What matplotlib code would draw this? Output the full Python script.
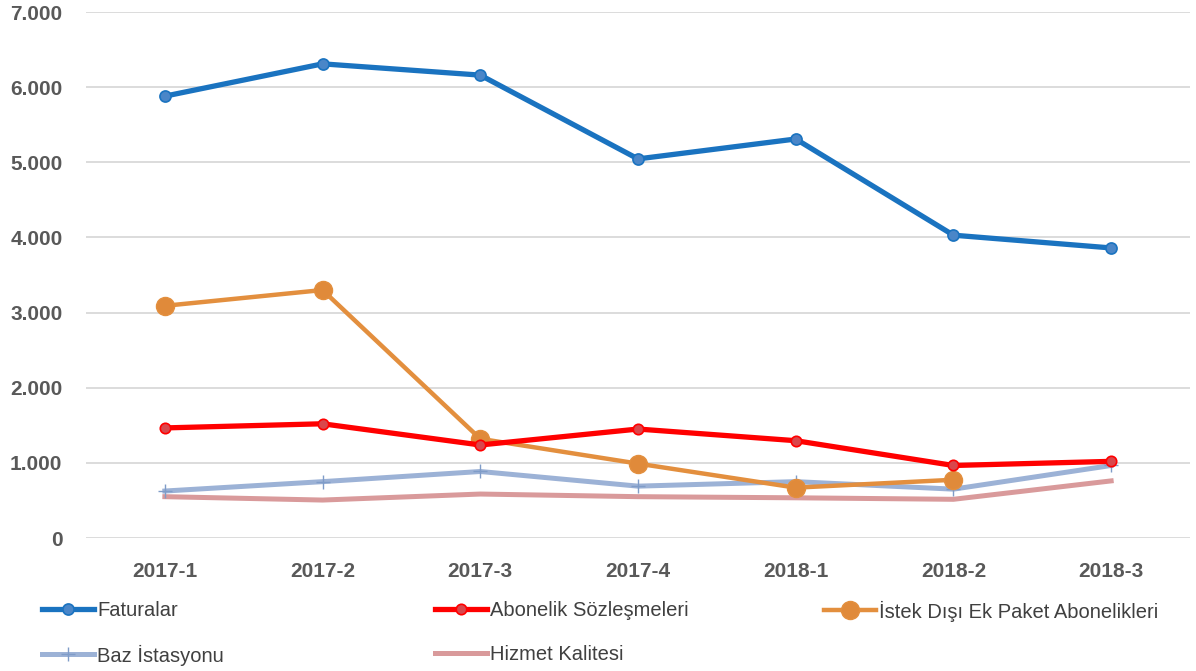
import numpy as np
import matplotlib.pyplot as plt
from matplotlib.ticker import FuncFormatter

periods = ['2017-1', '2017-2', '2017-3', '2017-4', '2018-1', '2018-2', '2018-3']

faturalar = [5880, 6310, 6160, 5045, 5310, 4030, 3860]
abonelik = [1465, 1520, 1238, 1450, 1295, 965, 1020]
istek_disi = [3090, 3300, 1320, 990, 670, 775, np.nan]
baz_istasyonu = [625, 750, 885, 690, 750, 650, 965]
hizmet_kalitesi = [550, 505, 585, 550, 535, 515, 760]

TICK_COLOR = '#595959'

fig = plt.figure(figsize=(11.96, 6.71), dpi=100)
ax = fig.add_axes([86 / 1196, 133 / 671, (1190 - 86) / 1196, (538 - 12) / 671])

x = np.arange(len(periods))

h_hiz, = ax.plot(x, hizmet_kalitesi, color='#d99a9b', lw=3.6, label='Hizmet Kalitesi', zorder=2)
h_baz, = ax.plot(x, baz_istasyonu, color='#9cb2d6', lw=3.6, marker='+', markersize=10,
                 markeredgewidth=1, markeredgecolor='#7f9cc8', label='Baz İstasyonu', zorder=3)
h_ist, = ax.plot(x, istek_disi, color='#e38f3e', lw=3.2, marker='o', markersize=13,
                 markerfacecolor='#e08a3a', markeredgecolor='#e38f3e',
                 label='İstek Dışı Ek Paket Abonelikleri', zorder=4)
h_abo, = ax.plot(x, abonelik, color='#ff0000', lw=3.8, marker='o', markersize=7.5,
                 markerfacecolor='#d9474c', markeredgecolor='#ff0000', markeredgewidth=1.2,
                 label='Abonelik Sözleşmeleri', zorder=5)
h_fat, = ax.plot(x, faturalar, color='#1a73c0', lw=3.8, marker='o', markersize=8,
                 markerfacecolor='#4a86c8', markeredgecolor='#1a73c0', markeredgewidth=1.2,
                 label='Faturalar', zorder=6)

ax.set_xlim(-0.5, len(periods) - 0.5)
ax.set_ylim(0, 7000)
ax.set_yticks(range(0, 7001, 1000))
ax.yaxis.set_major_formatter(FuncFormatter(lambda v, p: '0' if v == 0 else f'{int(v):,}'.replace(',', '.')))
ax.set_xticks(x)
ax.set_xticklabels(periods)

ax.grid(axis='y', color='#d9d9d9', lw=1.3)
ax.set_axisbelow(True)
for s in ax.spines.values():
    s.set_visible(False)
ax.tick_params(length=0, colors=TICK_COLOR, labelsize=15)
ax.tick_params(axis='x', pad=17)
ax.tick_params(axis='y', pad=17)
for lbl in ax.get_xticklabels() + ax.get_yticklabels():
    lbl.set_fontweight('bold')
    lbl.set_family('Liberation Sans')

# legend: each entry placed by hand (pixel x of handle, pixel y of row centre)
leg_props = {'family': 'Liberation Sans', 'size': 14.5}
entries = [(h_fat, 42, 611), (h_abo, 435, 611), (h_ist, 824, 611),
           (h_baz, 42, 655), (h_hiz, 435, 655)]
for h, xpix, ypix in entries:
    leg = fig.legend([h], [h.get_label()], loc='center left',
                     bbox_to_anchor=(xpix / 1196, 1 - ypix / 671), borderaxespad=0,
                     borderpad=0, frameon=False, handlelength=2.6, handletextpad=0.15,
                     prop=leg_props)
    for t in leg.get_texts():
        t.set_color('#404040')

fig.savefig('out.png', dpi=100)
